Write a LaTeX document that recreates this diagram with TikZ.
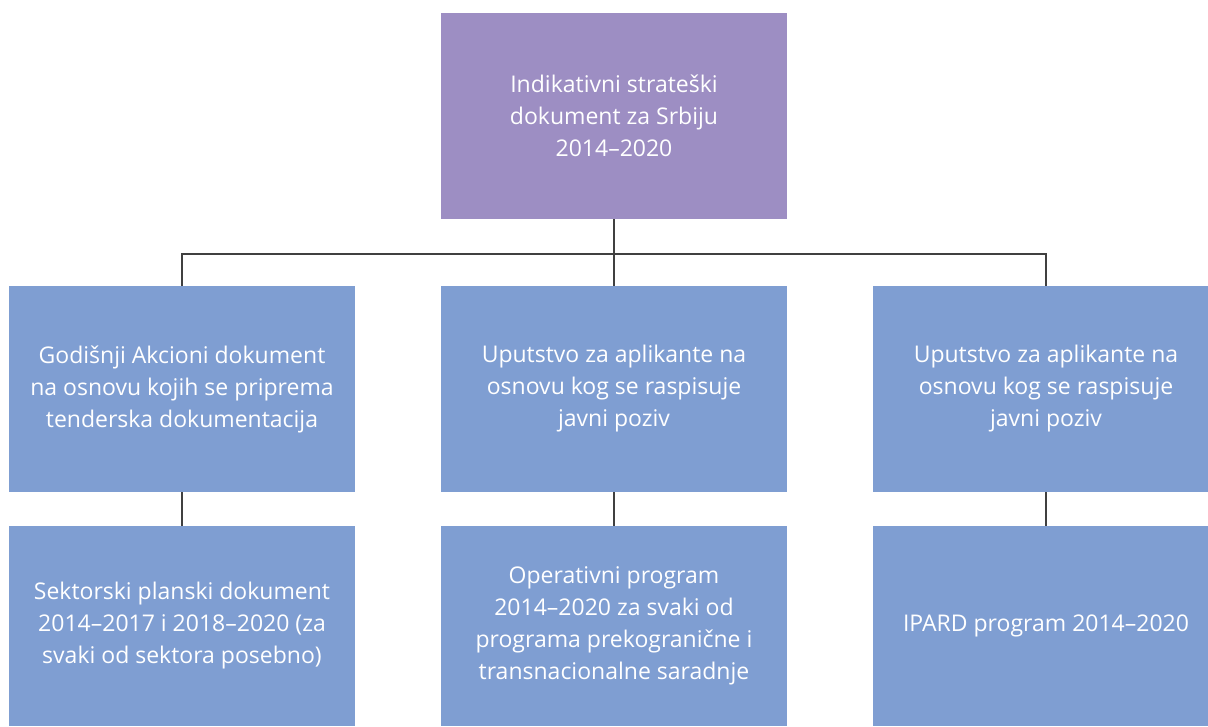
\documentclass[tikz,border=0pt]{standalone}
\usepackage{fontspec}
\newfontfamily\boxfont[Ligatures=TeX]{Open Sans}
\definecolor{purplebox}{HTML}{9D8EC3}
\definecolor{bluebox}{HTML}{7F9ED2}
\definecolor{linegray}{HTML}{404040}
\tikzstyle{topbox} = [rectangle, minimum width=346pt, minimum height=206pt,
text centered, align=center, fill=purplebox, text=white,
font=\boxfont\fontsize{23}{32}\selectfont]
\tikzstyle{block} = [rectangle, minimum width=346pt, minimum height=206pt,
                     text centered, align=center, fill=bluebox, text=white,
                     font=\boxfont\fontsize{23}{32}\selectfont]
\tikzstyle{lowblock} = [block, minimum height=200pt]
\tikzstyle{line} = [line width=1.5pt,-,draw=linegray]
\begin{document}
\begin{tikzpicture}[x=1pt,y=1pt]
  \useasboundingbox (0,0) rectangle (1208,-726);
  %blocks
  \node (isd) [topbox] at (614,-116) {Indikativni strateški\\ dokument za Srbiju\\ 2014--2020};
  \node (uput) [block, below of=isd, node distance=273pt] {Uputstvo za aplikante na\\ osnovu kog se raspisuje\\ javni poziv};
  \node (gad) [block, left of=uput, node distance=432pt] {Godišnji Akcioni dokument\\ na osnovu kojih se priprema\\ tenderska dokumentacija};
  \node (uputb) [block, right of=uput, node distance=432pt] {Uputstvo za aplikante na\\ osnovu kog se raspisuje\\ javni poziv};
  \node (opp) [lowblock, below of=uput, node distance=237pt] {Operativni program\\ 2014--2020 za svaki od\\ programa prekogranične i\\ transnacionalne saradnje};
  \node (spd) [lowblock, left of=opp, node distance=432pt] {Sektorski planski dokument\\ 2014--2017 i 2018--2020 (za\\ svaki od sektora posebno)};
  \node (ipard) [lowblock, right of=opp, node distance=432pt] {IPARD program 2014--2020};
  %connections
  \coordinate (bus) at (614,-254);
  \draw [line] (isd.south) -- (bus);
  \draw [line] (gad.north) |- (bus) -| (uputb.north);
  \draw [line] (bus) -- (uput.north);
  \draw [line] (gad) -- (spd);
  \draw [line] (uput) -- (opp);
  \draw [line] (uputb) -- (ipard);
\end{tikzpicture}
\end{document}
